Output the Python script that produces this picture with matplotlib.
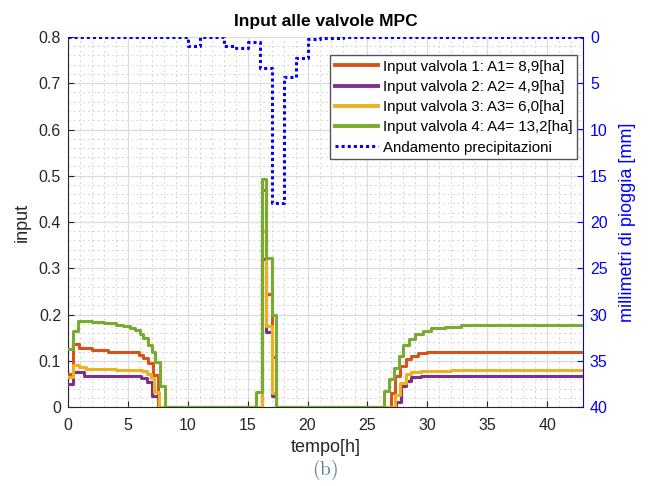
import matplotlib
matplotlib.use("Agg")
import matplotlib.pyplot as plt
from matplotlib.ticker import MultipleLocator

plt.rcParams['font.family'] = ['Liberation Sans', 'DejaVu Sans']
plt.rcParams['mathtext.fontset'] = 'cm'

T_END = 43.0

# Valve 1 (red)
t1 = [0, 0.45, 0.9, 2.0, 3.3, 5.0, 5.9, 6.3, 6.7, 7.1, 7.5, 16.2, 16.55, 17.0, 17.4,
      27.0, 27.3, 27.7, 28.2, 28.6, 29.2, 30.0, 31.5, 33.0]
v1 = [0.072, 0.137, 0.128, 0.124, 0.120, 0.118, 0.112, 0.105, 0.095, 0.070, 0.0, 0.47, 0.244, 0.108, 0.0,
      0.030, 0.066, 0.088, 0.103, 0.111, 0.116, 0.118, 0.119, 0.120]

# Valve 2 (purple)
t2 = [0, 0.45, 1.3, 6.1, 6.6, 7.0, 7.6, 16.2, 16.55, 17.0, 17.4,
      27.4, 27.8, 28.2, 28.6, 29.5]
v2 = [0.049, 0.075, 0.067, 0.063, 0.055, 0.024, 0.0, 0.32, 0.162, 0.024, 0.0,
      0.011, 0.045, 0.057, 0.064, 0.067]

# Valve 3 (yellow)
t3 = [0, 0.45, 0.9, 1.5, 4.0, 6.2, 6.6, 6.9, 7.2, 7.6, 16.2, 16.55, 17.0, 17.4,
      27.3, 27.7, 28.2, 28.6, 29.5, 32.0]
v3 = [0.064, 0.090, 0.086, 0.082, 0.080, 0.077, 0.072, 0.062, 0.033, 0.0, 0.38, 0.175, 0.030, 0.0,
      0.026, 0.052, 0.071, 0.076, 0.078, 0.081]

# Valve 4 (green)
t4 = [0, 0.4, 0.85, 2.0, 3.0, 4.0, 4.6, 5.2, 5.6, 6.0, 6.3, 6.7, 7.0, 7.3, 7.7, 8.1,
      15.7, 16.2, 16.55, 17.0, 17.4,
      26.4, 26.8, 27.2, 27.6, 28.0, 28.5, 29.0, 29.6, 30.3, 31.5, 32.8, 35.0]
v4 = [0.125, 0.165, 0.186, 0.183, 0.181, 0.178, 0.175, 0.171, 0.166, 0.158, 0.150, 0.134, 0.120, 0.097, 0.046, 0.0,
      0.033, 0.492, 0.322, 0.200, 0.0,
      0.035, 0.060, 0.085, 0.110, 0.134, 0.148, 0.157, 0.165, 0.170, 0.174, 0.177, 0.178]

# Rainfall (mm), hourly steps
t_rain = [0, 10, 11, 13, 14, 15, 16, 17, 18, 19, 20, 21, 23]
v_rain = [0, 1.0, 0, 1.0, 1.15, 0.5, 3.4, 18.0, 4.3, 2.3, 0.2, 0.1, 0]

yticks_left = [0, 0.1, 0.2, 0.3, 0.4, 0.5, 0.6, 0.7, 0.8]
ytick_labels_left = ['0', '0.1', '0.2', '0.3', '0.4', '0.5', '0.6', '0.7', '0.8']
yticks_right = [0, 5, 10, 15, 20, 25, 30, 35, 40]
xticks = [0, 5, 10, 15, 20, 25, 30, 35, 40]

labels = ['Input valvola 1: A1= 8,9[ha]', 'Input valvola 2: A2= 4,9[ha]',
          'Input valvola 3: A3= 6,0[ha]', 'Input valvola 4: A4= 13,2[ha]',
          'Andamento precipitazioni']
colors = ['#D95319', '#7E2F8E', '#EDB120', '#77AC30']

fig = plt.figure(figsize=(6.49, 4.86), dpi=100)
ax = fig.add_axes([68/649, 1-407/486, (583-68)/649, (407-37)/486])

handles = []
for t, v, c, lab in zip([t1, t2, t3, t4], [v1, v2, v3, v4], colors, labels[:4]):
    tt = list(t) + [T_END]
    vv = list(v) + [v[-1]]
    h, = ax.plot(tt, vv, drawstyle='steps-post', color=c, lw=2.2, label=lab, zorder=3)
    handles.append(h)

ax.set_xlim(0, T_END)
ax.set_ylim(0, 0.8)
ax.set_xticks(xticks)
ax.xaxis.set_minor_locator(MultipleLocator(1))
ax.set_yticks(yticks_left)
ax.set_yticklabels(ytick_labels_left)
ax.yaxis.set_minor_locator(MultipleLocator(0.02))
ax.grid(True, which='major', color='#dcdcdc', lw=0.9, ls='-')
ax.grid(True, which='minor', color='#d4d4d4', lw=0.7, ls=(0, (2, 3)))
ax.set_axisbelow(True)
ax.tick_params(which='major', direction='in', length=4, labelsize=11.5, colors='#262626')
ax.tick_params(axis='x', pad=8)
ax.tick_params(axis='y', pad=5)
ax.tick_params(which='minor', length=0)
ax.tick_params(axis='y', right=False)
for s in ['top', 'right']:
    ax.spines[s].set_visible(False)
ax.spines['left'].set_color('#262626')
ax.spines['bottom'].set_color('#262626')
ax.set_xlabel('tempo[h]', fontsize=13, color='#262626', labelpad=4)
ax.set_ylabel('input', fontsize=13, color='#262626', labelpad=6)
ax.set_title('Input alle valvole MPC', fontsize=12.5, fontweight='bold', pad=8)

ax2 = ax.twinx()
tr = list(t_rain) + [T_END]
vr = list(v_rain) + [v_rain[-1]]
hr, = ax2.plot(tr, vr, drawstyle='steps-post', color='#0000FF', lw=2.2, ls=(0, (1, 1)),
               label=labels[4], zorder=4)
handles.append(hr)
ax2.set_ylim(40, 0)
ax2.set_yticks(yticks_right)
ax2.tick_params(axis='y', direction='in', length=4, labelsize=11.5, colors='#0000FF', pad=5)
for s in ['top', 'left', 'bottom']:
    ax2.spines[s].set_visible(False)
ax2.spines['right'].set_color('#0000FF')
ax2.set_ylabel('millimetri di pioggia [mm]', fontsize=13, color='#0000FF', labelpad=8)

leg = ax2.legend(handles=handles, labels=labels, loc='upper right',
                 bbox_to_anchor=(577/649, 1-55/486), bbox_transform=fig.transFigure,
                 fontsize=10.8, frameon=True, fancybox=False, framealpha=1,
                 edgecolor='#555555', handlelength=2.9, handletextpad=0.3,
                 labelspacing=0.42, borderpad=0.3, borderaxespad=0)
leg.get_frame().set_linewidth(1.0)
for ln in leg.get_lines()[:4]:
    ln.set_linewidth(2.8)

fig.text(325/649, 1-470/486, r'$\mathrm{(b)}$', ha='center', va='center',
         fontsize=14, color='#5b7f9e')

fig.savefig('out.png', dpi=100)
